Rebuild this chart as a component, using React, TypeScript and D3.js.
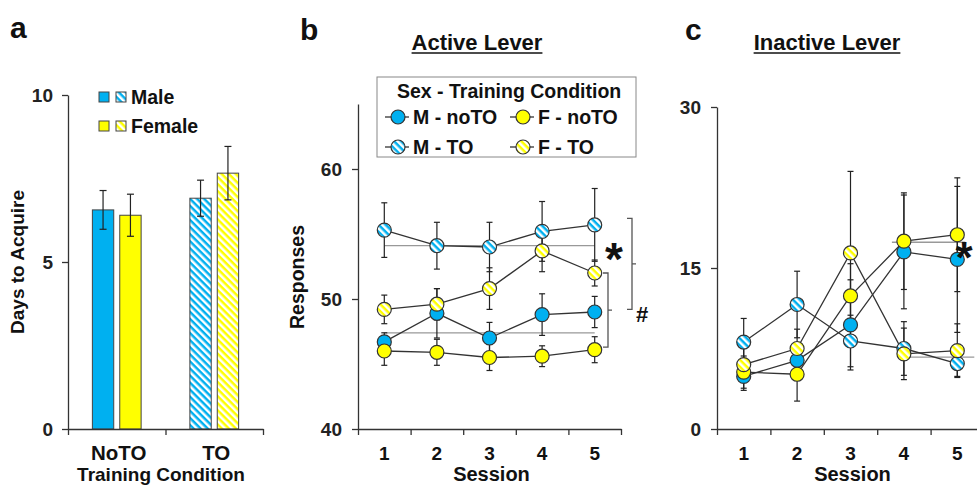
import React, { useEffect, useRef } from 'react';
import * as d3 from 'd3';

const conditions = ['NoTO', 'TO'];
const sexes = ['Male', 'Female'];
const daysMale = [6.56, 6.91];
const daysMaleErr = [0.58, 0.54];
const daysFemale = [6.4, 7.66];
const daysFemaleErr = [0.63, 0.8];

const sessions = [1, 2, 3, 4, 5];

// Active lever responses
const activeMnoTO = [46.7, 48.9, 47.0, 48.8, 49.0];
const activeMnoTOErr = [0.7, 1.9, 1.2, 1.6, 1.2];
const activeFnoTO = [46.0, 45.9, 45.5, 45.6, 46.1];
const activeFnoTOErr = [1.1, 1.0, 1.0, 0.8, 1.0];
const activeMTO = [55.3, 54.1, 54.0, 55.2, 55.7];
const activeMTOErr = [2.1, 1.8, 1.9, 2.3, 2.8];
const activeFTO = [49.2, 49.6, 50.8, 53.7, 52.0];
const activeFTOErr = [1.1, 1.2, 1.6, 1.6, 1.0];
const activeRefLines = [54.1, 47.4];
const activeBrackets = [[56.2, 49.2], [52.0, 46.3]];

// Inactive lever responses
const inactiveMnoTO = [4.9, 6.4, 9.7, 16.5, 15.8];
const inactiveMnoTOErr = [1.3, 1.5, 4.2, 5.3, 6.8];
const inactiveFnoTO = [5.3, 5.1, 12.4, 17.5, 18.1];
const inactiveFnoTOErr = [1.5, 2.5, 3.0, 4.5, 5.3];
const inactiveMTO = [8.1, 11.6, 8.2, 7.5, 6.1];
const inactiveMTOErr = [2.2, 3.1, 2.4, 2.5, 1.2];
const inactiveFTO = [6.0, 7.5, 16.4, 7.0, 7.3];
const inactiveFTOErr = [1.6, 1.8, 7.6, 2.4, 2.5];
const inactiveRefLines = [17.4, 6.7];

const BLUE = '#00B0F0';
const YELLOW = '#FFFF00';
const INK = '#333';
const FONT = "'Liberation Sans', Arial, sans-serif";

const App = () => {
  const ref = useRef(null);

  useEffect(() => {
    const svg = d3.select(ref.current);
    svg.selectAll('*').remove();
    svg.attr('font-family', FONT).attr('font-weight', 'bold');

    const defs = svg.append('defs');
    const hatch = (id, color, size) => {
      const p = defs.append('pattern').attr('id', id).attr('patternUnits', 'userSpaceOnUse')
        .attr('width', size).attr('height', size).attr('patternTransform', 'rotate(45)');
      p.append('rect').attr('width', size).attr('height', size).attr('fill', '#fff');
      p.append('rect').attr('width', size).attr('height', size / 2).attr('fill', color);
    };
    hatch('hb', BLUE, 5);
    hatch('hy', YELLOW, 5);

    const styleAxis = (g, size = 19) => {
      g.select('.domain').attr('stroke', INK).attr('stroke-width', 1.3);
      g.selectAll('.tick line').attr('stroke', INK).attr('stroke-width', 1.3);
      g.selectAll('.tick text').attr('font-size', size).attr('font-family', FONT)
        .attr('font-weight', 'bold').attr('fill', '#222');
    };

    const label = (x, y, text, size, anchor = 'start') =>
      svg.append('text').attr('x', x).attr('y', y).attr('font-size', size)
        .attr('text-anchor', anchor).attr('fill', '#111').text(text);

    const errBar = (g, x, y0, y1, cap) => {
      g.append('line').attr('x1', x).attr('x2', x).attr('y1', y0).attr('y2', y1).attr('stroke', '#222').attr('stroke-width', 1.2);
      [y0, y1].forEach((yy) => g.append('line').attr('x1', x - cap).attr('x2', x + cap).attr('y1', yy).attr('y2', yy).attr('stroke', '#222').attr('stroke-width', 1.2));
    };

    // ---------- panel a ----------
    label(10, 38, 'a', 30);
    const xA = d3.scaleBand().domain(conditions).range([68, 263]);
    const subA = d3.scaleBand().domain(sexes).range([0, xA.bandwidth()]).paddingInner(0.22).paddingOuter(0.89);
    const yA = d3.scaleLinear().domain([0, 10]).range([429, 95]);

    const gA = svg.append('g');
    const barsA = [
      { sex: 'Male', vals: daysMale, errs: daysMaleErr, solid: BLUE, hatched: 'url(#hb)' },
      { sex: 'Female', vals: daysFemale, errs: daysFemaleErr, solid: YELLOW, hatched: 'url(#hy)' },
    ];
    barsA.forEach((s) => {
      conditions.forEach((c, i) => {
        const x = xA(c) + subA(s.sex);
        gA.append('rect').attr('x', x).attr('y', yA(s.vals[i])).attr('width', subA.bandwidth())
          .attr('height', yA(0) - yA(s.vals[i])).attr('fill', i === 0 ? s.solid : s.hatched)
          .attr('stroke', '#444').attr('stroke-width', 1);
        errBar(gA, x + subA.bandwidth() / 2, yA(s.vals[i] + s.errs[i]), yA(s.vals[i] - s.errs[i]), 3.5);
      });
    });

    const yAxA = svg.append('g').attr('transform', 'translate(68,0)')
      .call(d3.axisLeft(yA).tickValues([0, 5, 10]).tickSize(6).tickSizeOuter(0).tickPadding(9));
    styleAxis(yAxA);
    const xAxA = svg.append('g').attr('transform', 'translate(0,429)')
      .call(d3.axisBottom(d3.scaleLinear().domain([0, 2]).range([68, 263])).tickValues([0, 1, 2]).tickSize(6).tickSizeOuter(0).tickFormat(() => ''));
    styleAxis(xAxA);
    conditions.forEach((c) => label(xA(c) + xA.bandwidth() / 2 + 2, 460, c, 20.5, 'middle'));
    label(161, 481, 'Training Condition', 19, 'middle');
    svg.append('text').attr('transform', 'translate(24,262) rotate(-90)').attr('text-anchor', 'middle')
      .attr('font-size', 19).attr('fill', '#111').text('Days to Acquire');

    // legend a
    [['Male', BLUE, 'url(#hb)', 97], ['Female', YELLOW, 'url(#hy)', 126]].forEach(([t, c, h, y]) => {
      svg.append('rect').attr('x', 99).attr('y', y - 5).attr('width', 10).attr('height', 10).attr('fill', c).attr('stroke', '#444');
      svg.append('rect').attr('x', 116).attr('y', y - 5).attr('width', 10).attr('height', 10).attr('fill', h).attr('stroke', '#444');
      label(131, y + 7, t, 19.5);
    });

    // ---------- line panels ----------
    const linePanel = (opts) => {
      const { x0, x1, y, series, refLines, refSpan } = opts;
      const x = d3.scaleBand().domain(sessions).range([x0, x1]);
      const cx = (s) => x(s) + x.bandwidth() / 2;
      const g = svg.append('g');

      // reference lines
      refLines.forEach((v, i) => {
        const [a, b] = refSpan(cx, i);
        g.append('line').attr('x1', a).attr('x2', b).attr('y1', y(v)).attr('y2', y(v)).attr('stroke', '#999').attr('stroke-width', 1.3);
      });

      series.forEach((s) => sessions.forEach((ss, i) =>
        errBar(g, cx(ss), y(s.vals[i] + s.errs[i]), y(s.vals[i] - s.errs[i]), 3)));

      const line = d3.line().x((d, i) => cx(sessions[i])).y((d) => y(d));
      series.forEach((s) => g.append('path').attr('d', line(s.vals)).attr('fill', 'none').attr('stroke', INK).attr('stroke-width', 1.3));
      series.forEach((s) => sessions.forEach((ss, i) =>
        g.append('circle').attr('cx', cx(ss)).attr('cy', y(s.vals[i])).attr('r', 7).attr('fill', s.fill).attr('stroke', INK).attr('stroke-width', 1.2)));

      const yAx = svg.append('g').attr('transform', `translate(${x0},0)`)
        .call(d3.axisLeft(y).tickValues(opts.ticks).tickSize(6).tickSizeOuter(0).tickPadding(10));
      styleAxis(yAx);
      const edges = d3.range(sessions.length + 1).map((i) => x0 + i * x.step());
      const xAx = svg.append('g').attr('transform', `translate(0,${y.range()[0]})`)
        .call(d3.axisBottom(d3.scaleLinear().domain([x0, x1]).range([x0, x1])).tickValues(edges).tickSize(6).tickSizeOuter(0).tickFormat(() => ''));
      styleAxis(xAx);
      sessions.forEach((ss) => label(cx(ss), 460, String(ss), 19, 'middle'));
      label(cx(3) + 2, 481, 'Session', 20, 'middle');
      return { x, cx };
    };

    const mk = (vals, errs, fill) => ({ vals, errs, fill });

    // ---------- panel b ----------
    label(300, 40, 'b', 30);
    const tb = label(477, 50, 'Active Lever', 22, 'middle');
    const wb = tb.node().getComputedTextLength();
    svg.append('line').attr('x1', 477 - wb / 2).attr('x2', 477 + wb / 2).attr('y1', 53).attr('y2', 53).attr('stroke', '#111').attr('stroke-width', 1.6);
    const yB = d3.scaleLinear().domain([40, 65]).range([429, 104]);
    linePanel({
      x0: 358, x1: 621, y: yB, ticks: [40, 50, 60],
      series: [
        mk(activeMnoTO, activeMnoTOErr, BLUE),
        mk(activeMTO, activeMTOErr, 'url(#hb)'),
        mk(activeFnoTO, activeFnoTOErr, YELLOW),
        mk(activeFTO, activeFTOErr, 'url(#hy)'),
      ],
      refLines: activeRefLines,
      refSpan: (cx) => [cx(1), cx(5)],
    });
    svg.append('text').attr('transform', 'translate(304,277) rotate(-90)').attr('text-anchor', 'middle')
      .attr('font-size', 19.5).attr('fill', '#111').text('Responses');

    // brackets
    const bracket = (xv, top, bottom) => {
      svg.append('path').attr('d', `M${xv - 5},${yB(top)}H${xv}V${yB(bottom)}H${xv - 5}M${xv},${(yB(top) + yB(bottom)) / 2}h4`)
        .attr('fill', 'none').attr('stroke', '#555').attr('stroke-width', 1.3);
    };
    bracket(632, activeBrackets[0][0], activeBrackets[0][1]);
    bracket(608, activeBrackets[1][0], activeBrackets[1][1]);
    label(614, 275, '*', 46, 'middle');
    label(642, 322, '#', 22, 'middle');

    // legend b
    svg.append('rect').attr('x', 377).attr('y', 77).attr('width', 259).attr('height', 80).attr('fill', '#fff').attr('stroke', '#888').attr('stroke-width', 1);
    label(397, 98, 'Sex - Training Condition', 19.5);
    [
      ['M - noTO', BLUE, 385, 117], ['F - noTO', YELLOW, 510, 117],
      ['M - TO', 'url(#hb)', 385, 147], ['F - TO', 'url(#hy)', 510, 147],
    ].forEach(([t, f, lx, ly]) => {
      svg.append('line').attr('x1', lx).attr('x2', lx + 24).attr('y1', ly).attr('y2', ly).attr('stroke', INK).attr('stroke-width', 1.3);
      svg.append('circle').attr('cx', lx + 13).attr('cy', ly).attr('r', 7).attr('fill', f).attr('stroke', INK).attr('stroke-width', 1.2);
      label(lx + 28, ly + 7, t, 19.5);
    });

    // ---------- panel c ----------
    label(685, 40, 'c', 30);
    const tc = label(827, 50, 'Inactive Lever', 22, 'middle');
    const wc = tc.node().getComputedTextLength();
    svg.append('line').attr('x1', 827 - wc / 2).attr('x2', 827 + wc / 2).attr('y1', 53).attr('y2', 53).attr('stroke', '#111').attr('stroke-width', 1.6);
    const yC = d3.scaleLinear().domain([0, 30]).range([429, 107]);
    linePanel({
      x0: 717, x1: 984, y: yC, ticks: [0, 15, 30],
      series: [
        mk(inactiveMnoTO, inactiveMnoTOErr, BLUE),
        mk(inactiveMTO, inactiveMTOErr, 'url(#hb)'),
        mk(inactiveFnoTO, inactiveFnoTOErr, YELLOW),
        mk(inactiveFTO, inactiveFTOErr, 'url(#hy)'),
      ],
      refLines: inactiveRefLines,
      refSpan: (cx, i) => (i === 0 ? [cx(4) - 12, cx(5) + 8] : [cx(4) - 2, cx(5) + 17]),
    });
    label(964, 273, '*', 44, 'middle');
  }, []);

  return (
    <svg ref={ref} width={977} height={486} style={{ position: 'absolute', left: 0, top: 0, background: '#fff' }} />
  );
};

export default App;
